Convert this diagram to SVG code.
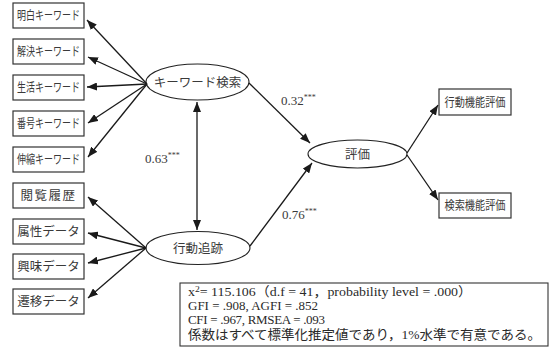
<svg xmlns="http://www.w3.org/2000/svg" width="551" height="347" viewBox="0 0 551 347">
  <defs>
    <marker id="arrow" viewBox="0 0 10 8" refX="10" refY="4" markerWidth="10" markerHeight="8" markerUnits="userSpaceOnUse" orient="auto-start-reverse">
      <path d="M0,0 L10,4 L0,8 z" fill="#1a1a1a"/>
    </marker>
  </defs>
  <style>
    .box { fill: #ffffff; stroke: #333333; stroke-width: 1.2; }
    .ell { fill: #ffffff; stroke: #222222; stroke-width: 1.1; }
    .lbl { font-family: "Liberation Serif", "Noto Sans CJK JP", serif; font-size: 12.5px; fill: #3a3a3a; text-anchor: middle; }
    .big { font-size: 12.5px; }
    .coef { font-family: "Liberation Serif", serif; font-size: 13px; fill: #3a3a3a; }
    .star { font-size: 8px; }
    .edge { stroke: #1a1a1a; stroke-width: 1.3; fill: none; marker-end: url(#arrow); }
    .stat { font-family: "Liberation Serif", "Noto Sans CJK JP", serif; font-size: 13px; fill: #2a2a2a; }
  </style>

  <!-- keyword indicators -->
  <g id="n-meihaku"><rect class="box" x="13" y="3" width="71" height="25"/><text class="lbl" x="48.5" y="20" textLength="63" lengthAdjust="spacingAndGlyphs">明白キーワード</text></g>
  <g id="n-kaiketsu"><rect class="box" x="13" y="39" width="71" height="25"/><text class="lbl" x="48.5" y="56" textLength="63" lengthAdjust="spacingAndGlyphs">解決キーワード</text></g>
  <g id="n-seikatsu"><rect class="box" x="13" y="75" width="71" height="25"/><text class="lbl" x="48.5" y="92" textLength="63" lengthAdjust="spacingAndGlyphs">生活キーワード</text></g>
  <g id="n-bango"><rect class="box" x="13" y="111" width="71" height="25"/><text class="lbl" x="48.5" y="128" textLength="63" lengthAdjust="spacingAndGlyphs">番号キーワード</text></g>
  <g id="n-shinshuku"><rect class="box" x="13" y="147" width="71" height="25"/><text class="lbl" x="48.5" y="164" textLength="63" lengthAdjust="spacingAndGlyphs">伸縮キーワード</text></g>

  <!-- behaviour indicators -->
  <g id="n-etsuran"><rect class="box" x="13" y="183" width="71" height="25"/><text class="lbl big" x="48.5" y="200" letter-spacing="1.5">閲覧履歴</text></g>
  <g id="n-zokusei"><rect class="box" x="13" y="219" width="71" height="25"/><text class="lbl big" x="48.5" y="236">属性データ</text></g>
  <g id="n-kyomi"><rect class="box" x="13" y="254" width="71" height="25"/><text class="lbl big" x="48.5" y="271">興味データ</text></g>
  <g id="n-seni"><rect class="box" x="13" y="289" width="71" height="25"/><text class="lbl big" x="48.5" y="306">遷移データ</text></g>

  <!-- latent factors -->
  <g id="n-keyword"><ellipse class="ell" cx="197.5" cy="82" rx="51.5" ry="18"/><text class="lbl big" x="197.5" y="86.5">キーワード検索</text></g>
  <g id="n-kodo"><ellipse class="ell" cx="198" cy="248" rx="52" ry="16.5"/><text class="lbl big" x="198" y="252.5">行動追跡</text></g>
  <g id="n-hyoka"><ellipse class="ell" cx="357.5" cy="154" rx="49.5" ry="14"/><text class="lbl big" x="357.5" y="158.5">評価</text></g>

  <!-- evaluation indicators -->
  <g id="n-kodokino"><rect class="box" x="439" y="89" width="72" height="26"/><text class="lbl" x="475" y="106.5" textLength="61" lengthAdjust="spacingAndGlyphs">行動機能評価</text></g>
  <g id="n-kensakukino"><rect class="box" x="439" y="193" width="72" height="25"/><text class="lbl" x="475" y="210" textLength="61" lengthAdjust="spacingAndGlyphs">検索機能評価</text></g>

  <!-- paths -->
  <g id="connectors">
    <line class="edge" x1="147" y1="84" x2="87" y2="20"/>
    <line class="edge" x1="147" y1="84" x2="88" y2="57"/>
    <line class="edge" x1="147" y1="84" x2="87" y2="87"/>
    <line class="edge" x1="147" y1="84" x2="88" y2="123"/>
    <line class="edge" x1="147" y1="84" x2="88" y2="157"/>

    <line class="edge" x1="146" y1="248" x2="88" y2="197"/>
    <line class="edge" x1="146" y1="248" x2="88" y2="233"/>
    <line class="edge" x1="146" y1="248" x2="88" y2="263"/>
    <line class="edge" x1="146" y1="248" x2="88" y2="298"/>

    <line class="edge" x1="197" y1="102" x2="197" y2="230" marker-start="url(#arrow)"/>

    <line class="edge" x1="249" y1="83" x2="310" y2="143"/>
    <line class="edge" x1="250" y1="246" x2="312" y2="163"/>

    <line class="edge" x1="407" y1="153" x2="438" y2="105"/>
    <line class="edge" x1="407" y1="155" x2="438" y2="200"/>
  </g>

  <!-- path coefficients -->
  <text class="coef" x="281" y="105">0.32<tspan class="star" dy="-5">***</tspan></text>
  <text class="coef" x="145" y="163">0.63<tspan class="star" dy="-5">***</tspan></text>
  <text class="coef" x="282" y="219">0.76<tspan class="star" dy="-5">***</tspan></text>

  <!-- fit statistics -->
  <g id="fit-stats">
    <rect x="180" y="283" width="368" height="63" fill="#ffffff" stroke="#333333" stroke-width="1.1"/>
    <text class="stat" x="188" y="296" textLength="284" lengthAdjust="spacingAndGlyphs">x<tspan font-size="9" dy="-4">2</tspan><tspan dy="4">= 115.106（d.f = 41，probability level = .000）</tspan></text>
    <text class="stat" x="188" y="310" textLength="130" lengthAdjust="spacing">GFI = .908, AGFI = .852</text>
    <text class="stat" x="188" y="324" textLength="137" lengthAdjust="spacing">CFI = .967, RMSEA = .093</text>
    <text class="stat" x="188" y="339" textLength="353" lengthAdjust="spacingAndGlyphs">係数はすべて標準化推定値であり，1%水準で有意である。</text>
  </g>
</svg>
